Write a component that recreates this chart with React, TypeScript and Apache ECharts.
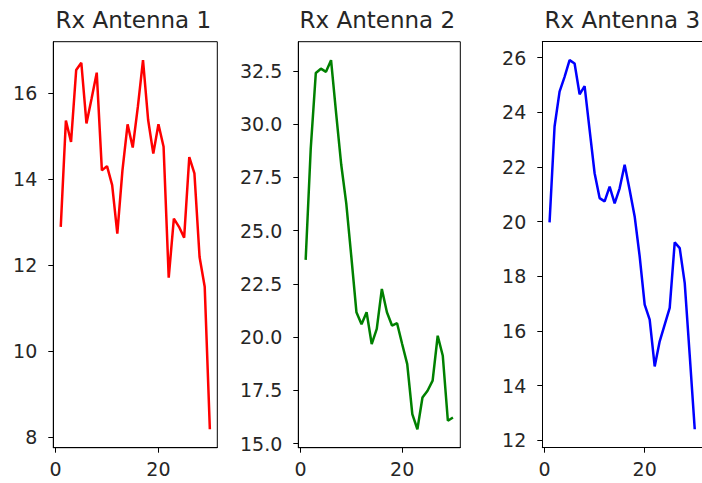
import React, { useEffect, useRef } from "react";
import * as echarts from "echarts";

const xValues = [1, 2, 3, 4, 5, 6, 7, 8, 9, 10, 11, 12, 13, 14, 15, 16, 17, 18, 19, 20, 21, 22, 23, 24, 25, 26, 27, 28, 29, 30];
const rx1 = [12.89, 15.36, 14.86, 16.53, 16.70, 15.29, 15.87, 16.47, 14.20, 14.30, 13.86, 12.73, 14.20, 15.27, 14.73, 15.68, 16.76, 15.37, 14.59, 15.27, 14.75, 11.71, 13.08, 12.89, 12.64, 14.51, 14.13, 12.19, 11.5, 8.19];
const rx2 = [23.62, 28.85, 32.4, 32.6, 32.45, 33.0, 30.5, 28.1, 26.26, 23.75, 21.16, 20.6, 21.16, 19.67, 20.38, 22.26, 21.16, 20.54, 20.65, 19.67, 18.73, 16.38, 15.67, 17.16, 17.48, 17.95, 20.06, 19.12, 16.07, 16.22];
const rx3 = [19.97, 23.48, 24.76, 25.3, 25.91, 25.79, 24.66, 24.96, 23.36, 21.77, 20.86, 20.74, 21.28, 20.67, 21.22, 22.08, 21.16, 20.19, 18.73, 16.96, 16.41, 14.70, 15.62, 16.23, 16.84, 19.24, 19.03, 17.75, 15.1, 12.4];

const titles = ["Rx Antenna 1", "Rx Antenna 2", "Rx Antenna 3"];
const xTicks = [0, 20];
const yTicks1 = [8, 10, 12, 14, 16];
const yTicks2 = [15, 17.5, 20, 22.5, 25, 27.5, 30, 32.5];
const yTicks3 = [12, 14, 16, 18, 20, 22, 24, 26];
const colors = ["#ff0000", "#008000", "#0000ff"];

const FONT = "DejaVu Sans";
const TEXT = "#262626";

function padRange(vals: number[]) {
  const lo = Math.min(...vals);
  const hi = Math.max(...vals);
  const m = (hi - lo) * 0.05;
  return [lo - m, hi + m];
}

export default function App() {
  const ref = useRef<HTMLDivElement>(null);
  useEffect(() => {
    document.body.style.margin = "0";
    const chart = echarts.init(ref.current!, null, { renderer: "svg" });
    const series = [rx1, rx2, rx3];
    const yTicks = [yTicks1, yTicks2, yTicks3];
    const lefts = [53.3, 298.3, 542.3];
    const widths = [164, 162, 164];
    const top = 41.7;
    const height = 406;
    const [xlo, xhi] = padRange(xValues);

    const grids = lefts.map((l, i) => ({
      left: l,
      top,
      width: widths[i],
      height,
      show: i < 2,
      borderColor: "#000",
      borderWidth: 1,
      backgroundColor: "#fff",
      containLabel: false,
    }));

    const xAxes: any[] = lefts.map((_, i) => ({
      type: "value",
      gridIndex: i,
      min: xlo,
      max: xhi,
      axisLine: { show: true, onZero: false, lineStyle: { color: "#000", width: 1 } },
      axisTick: { show: true, customValues: xTicks, length: 5, lineStyle: { color: "#000", width: 1 } },
      axisLabel: {
        customValues: xTicks,
        margin: 11.5,
        fontFamily: FONT,
        fontSize: 19,
        color: TEXT,
      },
      splitLine: { show: false },
    }));
    // top spine of the third panel (its right spine lies outside the picture)
    xAxes.push({
      type: "value",
      gridIndex: 2,
      position: "top",
      min: xlo,
      max: xhi,
      axisLine: { show: true, onZero: false, lineStyle: { color: "#000", width: 1 } },
      axisTick: { show: false },
      axisLabel: { show: false },
      splitLine: { show: false },
    });

    const yAxes = series.map((s, i) => {
      const [lo, hi] = padRange(s);
      const dec = i === 1 ? 1 : 0;
      return {
        type: "value",
        gridIndex: i,
        min: lo,
        max: hi,
        axisLine: { show: true, onZero: false, lineStyle: { color: "#000", width: 1 } },
        axisTick: { show: true, customValues: yTicks[i], length: 5, lineStyle: { color: "#000", width: 1 } },
        axisLabel: {
          customValues: yTicks[i],
          margin: 16,
          fontFamily: FONT,
          fontSize: 19,
          color: TEXT,
          formatter: (v: number) => v.toFixed(dec),
        },
        splitLine: { show: false },
      };
    });

    const seriesOpts = series.map((s, i) => ({
      type: "line",
      xAxisIndex: i,
      yAxisIndex: i,
      data: xValues.map((x, j) => [x, s[j]]),
      showSymbol: false,
      symbol: "none",
      lineStyle: { color: colors[i], width: 2.5 },
      itemStyle: { color: colors[i] },
    }));

    const graphics = titles.map((t, i) => ({
      type: "text",
      x: lefts[i] + widths[i] / 2 - 2,
      y: 20,
      style: {
        text: t,
        fontFamily: FONT,
        fontSize: 23,
        fill: TEXT,
        textAlign: "center",
        textVerticalAlign: "middle",
      },
    }));

    chart.setOption({
      animation: false,
      backgroundColor: "#fff",
      grid: grids,
      xAxis: xAxes,
      yAxis: yAxes,
      series: seriesOpts,
      graphic: graphics,
    });
    return () => chart.dispose();
  }, []);
  return <div ref={ref} style={{ width: 702, height: 483 }} />;
}
